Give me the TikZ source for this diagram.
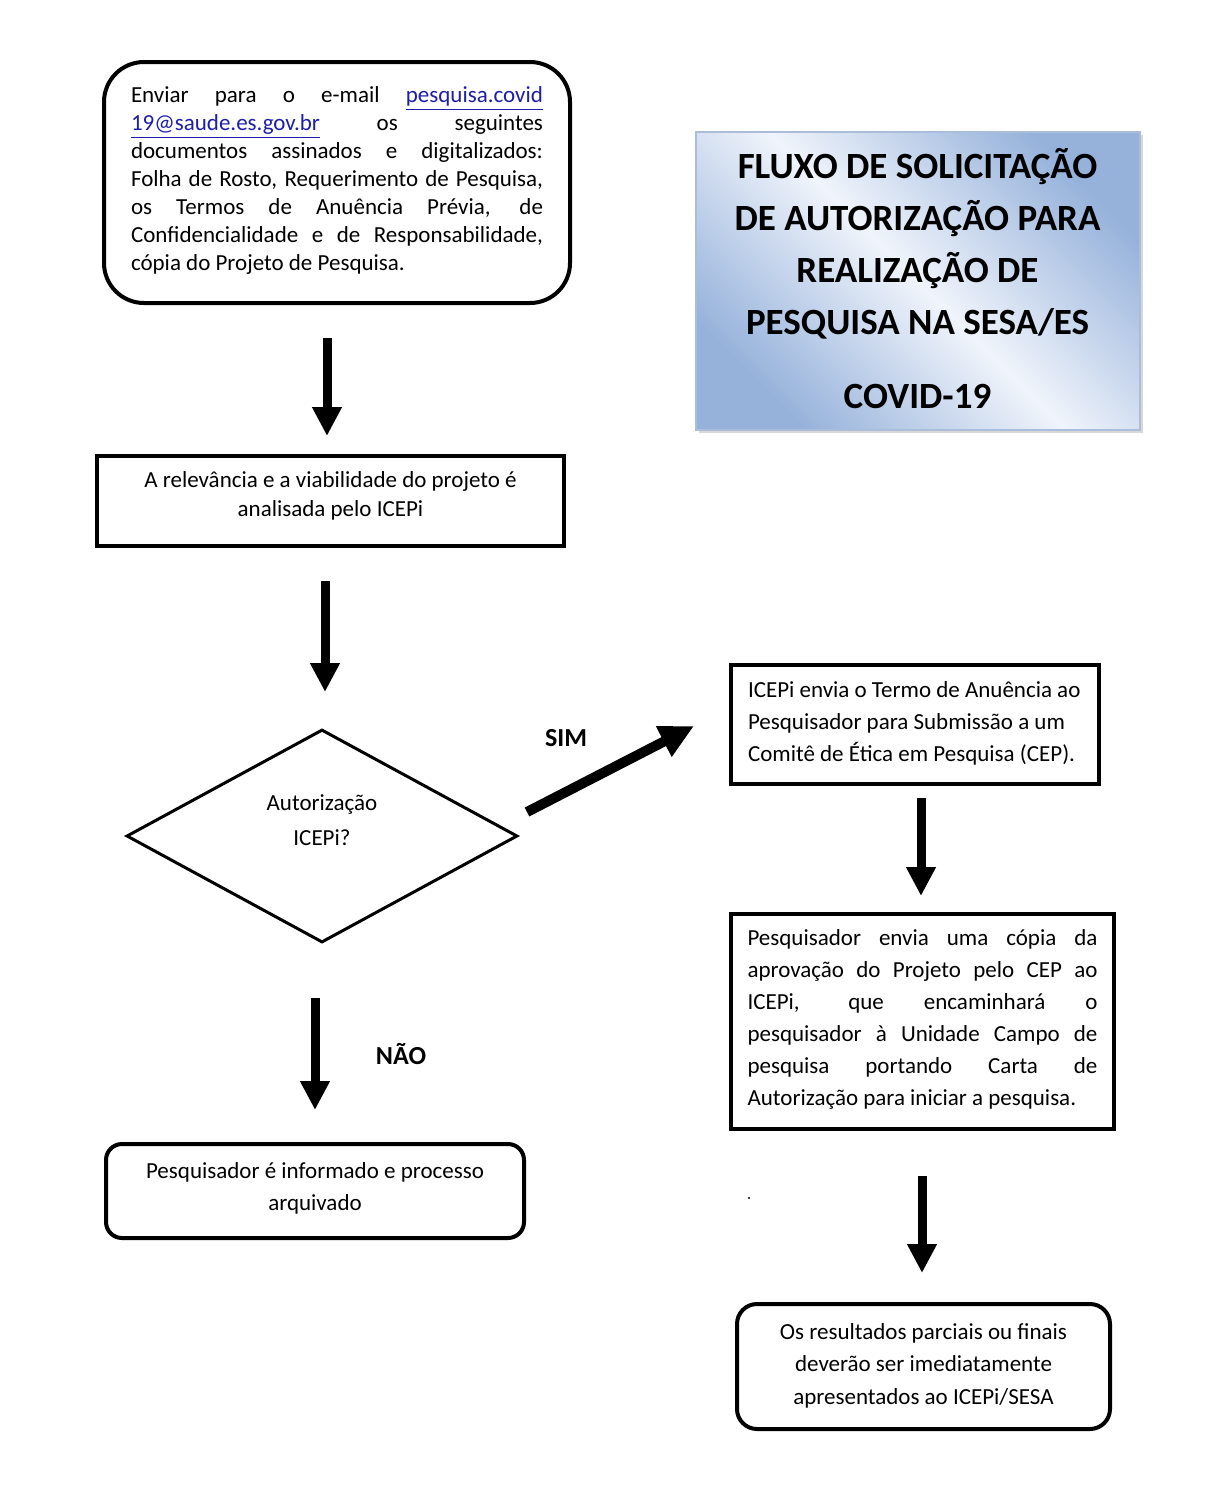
\documentclass[tikz,border=0pt]{standalone}
\usepackage{fontspec}
\setmainfont{Carlito}
\usetikzlibrary{arrows.meta,shapes.geometric,shadows}

\definecolor{linkblue}{RGB}{30,30,170}
\definecolor{tdark}{RGB}{150,178,219}
\definecolor{tlight}{RGB}{240,244,251}
\definecolor{tborder}{RGB}{170,189,218}

\newcommand{\jl}[2]{\makebox[#1][s]{#2}}
\newcommand{\lift}[2]{\raisebox{#1}[\height][\depth]{#2}}

\tikzset{
  boxline/.style={draw, line width=2pt, inner sep=0pt},
  roundbox/.style={boxline, rounded corners=#1},
  bigarr/.style={line width=4.5pt, -{Triangle[width=14pt,length=14.5pt]}},
  lbl/.style={font=\fontsize{13}{15}\selectfont\bfseries},
}

\begin{document}
\begin{tikzpicture}[x=0.5pt,y=-0.5pt]
\path[use as bounding box, fill=white] (0,0) rectangle (1215,1505);

% Box 1
\node[roundbox=20pt, minimum width=233pt, minimum height=120.5pt] (b1) at (337,182.5)
{\lift{1pt}{\parbox{206pt}{\fontsize{11.5}{14}\selectfont
\jl{206pt}{Enviar para o e-mail \textcolor{linkblue}{\underline{pesquisa.covid}}}\\
\jl{206pt}{\textcolor{linkblue}{\underline{19@saude.es.gov.br}} os seguintes}\\
\jl{206pt}{documentos assinados e digitalizados:}\\
\jl{206pt}{Folha de Rosto, Requerimento de Pesquisa,}\\
\jl{206pt}{os Termos de Anuência Prévia, de}\\
\jl{206pt}{Confidencialidade e de Responsabilidade,}\\
cópia do Projeto de Pesquisa.}}};

% Title
\node[draw=tborder, line width=1pt, inner sep=0pt, minimum width=222pt, minimum height=149pt,
      shade, top color=tdark, bottom color=tdark, middle color=tlight, shading angle=-45,
      drop shadow={shadow xshift=1.5pt, shadow yshift=-1.5pt, fill=black!30},
      font=\fontsize{18.5}{26}\selectfont\bfseries] (title) at (917.5,281)
{\lift{1pt}{\parbox{214pt}{\centering FLUXO DE SOLICITAÇÃO\\DE AUTORIZAÇÃO PARA\\REALIZAÇÃO DE\\PESQUISA NA SESA/ES\\[11pt]COVID-19}}};

% Box 2
\node[boxline, minimum width=233.5pt, minimum height=45pt] (b2) at (330.5,501)
{\lift{2.5pt}{\parbox{230pt}{\centering\fontsize{11.5}{14.5}\selectfont
A relevância e a viabilidade do projeto é\\analisada pelo ICEPi}}};

% Diamond
\node[diamond, draw, line width=1.5pt, minimum width=195.5pt, minimum height=106.5pt, inner sep=0pt] (d) at (322,836) {};
\node[align=center, font=\fontsize{11.5}{17.5}\selectfont] (dt) at (322,820) {Autorização\\ICEPi?};

% No box
\node[roundbox=8pt, minimum width=209pt, minimum height=47pt] (no) at (315,1191)
{\lift{1.5pt}{\parbox{205pt}{\centering\fontsize{11.5}{16}\selectfont
Pesquisador é informado e processo\\arquivado}}};

% ICEPi box
\node[boxline, minimum width=184pt, minimum height=59.5pt] (ic) at (915,724.5)
{\lift{0.5pt}{\parbox{167pt}{\raggedright\fontsize{11.5}{16}\selectfont
ICEPi envia o Termo de Anuência ao\\Pesquisador para Submissão a um\\Comitê de Ética em Pesquisa (CEP).}}};

% Pesquisador box
\node[boxline, minimum width=191.5pt, minimum height=107.5pt] (pq) at (922.5,1021.5)
{\lift{1pt}{\parbox{175pt}{\fontsize{11.5}{16}\selectfont
\jl{175pt}{Pesquisador envia uma cópia da}\\
\jl{175pt}{aprovação do Projeto pelo CEP ao}\\
\jl{175pt}{ICEPi, que encaminhará o}\\
\jl{175pt}{pesquisador à Unidade Campo de}\\
\jl{175pt}{pesquisa portando Carta de}\\
Autorização para iniciar a pesquisa.}}};

% Final box
\node[roundbox=10pt, minimum width=186.5pt, minimum height=62.5pt] (fin) at (923.5,1366.5)
{\lift{0.5pt}{\parbox{184pt}{\centering\fontsize{11.5}{16.25}\selectfont
Os resultados parciais ou finais\\deverão ser imediatamente\\apresentados ao ICEPi/SESA}}};

% stray dot
\node[circle, fill, inner sep=0pt, minimum size=1.2pt] (dot) at (749,1198) {};

% arrow endpoints
\coordinate (a1s) at (327,338);  \coordinate (a1e) at (327,436);
\coordinate (a2s) at (325,581);  \coordinate (a2e) at (325,692);
\coordinate (a3s) at (527,812);  \coordinate (a3e) at (694,726);
\coordinate (a4s) at (315,998);  \coordinate (a4e) at (315,1110);
\coordinate (a5s) at (921,798);  \coordinate (a5e) at (921,896);
\coordinate (a6s) at (922,1176); \coordinate (a6e) at (922,1273);

\draw[bigarr] (a1s) -- (a1e);
\draw[bigarr] (a2s) -- (a2e);
\draw[line width=5pt, -{Triangle[width=16pt,length=17pt]}] (a3s) -- (a3e);
\draw[bigarr] (a4s) -- (a4e);
\draw[bigarr] (a5s) -- (a5e);
\draw[bigarr] (a6s) -- (a6e);

\node[lbl] (sim) at (566,738) {SIM};
\node[lbl] (nao) at (401,1054) {NÃO};
\end{tikzpicture}
\end{document}
